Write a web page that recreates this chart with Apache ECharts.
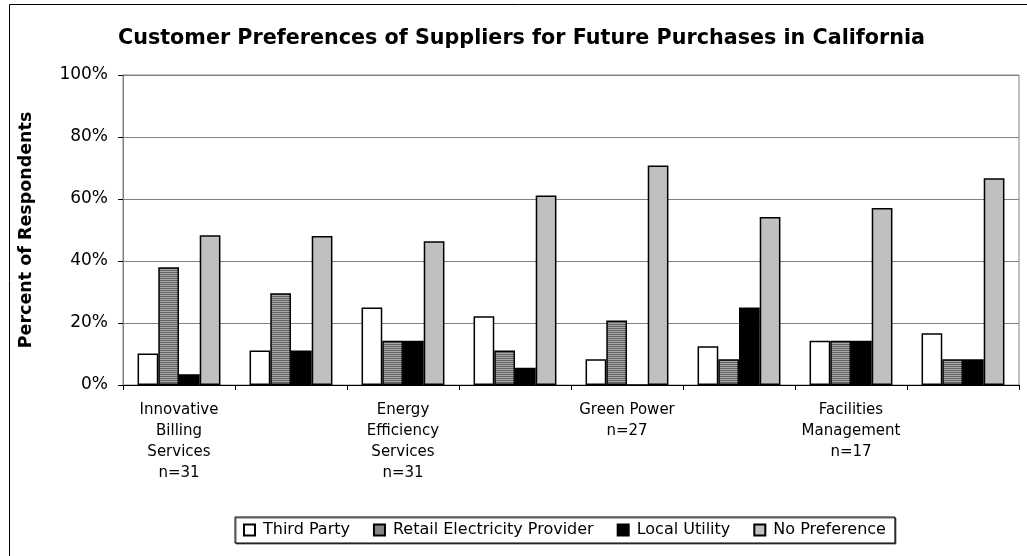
<!DOCTYPE html>
<html>
<head>
<meta charset="utf-8">
<script src="https://cdn.jsdelivr.net/npm/echarts@6/dist/echarts.min.js"></script>
<style>html,body{margin:0;padding:0;background:#fff;}#c{width:1027px;height:556px;}</style>
</head>
<body>
<div id="c"></div>
<script>
var titleText = 'Customer Preferences of Suppliers for Future Purchases in California';
var yAxisTitle = 'Percent of Respondents';
var categories = [
  'Innovative\nBilling\nServices\nn=31', '',
  'Energy\nEfficiency\nServices\nn=31', '',
  'Green Power\nn=27', '',
  'Facilities\nManagement\nn=17', ''
];
var seriesNames = ['Third Party', 'Retail Electricity Provider', 'Local Utility', 'No Preference'];
var thirdParty = [10.2, 11.1, 25.0, 22.2, 8.3, 12.5, 14.3, 16.7];
var retailProvider = [38.0, 29.6, 14.3, 11.1, 20.8, 8.3, 14.3, 8.3];
var localUtility = [3.5, 11.1, 14.3, 5.6, 0, 25.0, 14.3, 8.3];
var noPreference = [48.3, 48.1, 46.4, 61.1, 70.8, 54.2, 57.1, 66.7];
var yTicks = [0, 20, 40, 60, 80, 100];

var pc = document.createElement('canvas');
pc.width = 4; pc.height = 2;
var pctx = pc.getContext('2d');
pctx.fillStyle = '#646464'; pctx.fillRect(0, 0, 4, 1);
pctx.fillStyle = '#a8a8a8'; pctx.fillRect(0, 1, 4, 1);

var fills = ['#ffffff', {image: pc, repeat: 'repeat'}, '#000000', '#c0c0c0'];
var values = [thirdParty, retailProvider, localUtility, noPreference];

var chart = echarts.init(document.getElementById('c'));
var FONT = '"DejaVu Sans", sans-serif';
chart.setOption({
  animation: false,
  backgroundColor: '#ffffff',
  textStyle: {fontFamily: FONT},
  title: {
    text: titleText, left: 113, top: 23,
    textStyle: {fontSize: 20.7, fontWeight: 'bold', color: '#000', fontFamily: FONT}
  },
  graphic: [{
    type: 'rect', left: 7, top: 2, shape: {width: 1040, height: 600},
    style: {fill: 'none', stroke: '#000', lineWidth: 1}, silent: true, z: -1
  }],
  legend: {
    bottom: 13, left: 235,
    data: seriesNames,
    icon: 'rect',
    itemWidth: 11, itemHeight: 11, itemGap: 23,
    padding: [5, 9, 5, 8],
    borderColor: '#000', borderWidth: 1,
    shadowColor: 'rgba(0,0,0,0.6)', shadowOffsetX: 1, shadowOffsetY: 1, shadowBlur: 0,
    backgroundColor: '#fff',
    textStyle: {fontSize: 16, color: '#000', fontFamily: FONT, padding: [0, 0, 0, 3]}
  },
  grid: {
    left: 123, right: 8, top: 75, bottom: 171,
    show: true, borderColor: '#808080', borderWidth: 1
  },
  xAxis: {
    type: 'category', data: categories,
    axisLine: {lineStyle: {color: '#000', width: 1}},
    axisTick: {show: true, alignWithLabel: false, length: 5, lineStyle: {color: '#000'}},
    axisLabel: {interval: 0, fontSize: 15, color: '#000', lineHeight: 21, margin: 15, fontFamily: FONT}
  },
  yAxis: {
    type: 'value', min: 0, max: 100, interval: 20,
    name: yAxisTitle, nameLocation: 'middle', nameGap: 88,
    nameTextStyle: {fontSize: 17.5, fontWeight: 'bold', color: '#000', fontFamily: FONT},
    axisLine: {show: true, lineStyle: {color: '#808080'}},
    axisTick: {show: true, length: 5, lineStyle: {color: '#000'}},
    axisLabel: {fontSize: 17, color: '#000', margin: 15, fontFamily: FONT,
      formatter: function (v) { return yTicks.indexOf(v) >= 0 ? v + '%' : ''; }},
    splitLine: {lineStyle: {color: '#808080', width: 1}}
  },
  series: seriesNames.map(function (n, i) {
    return {
      name: n, type: 'bar', data: values[i],
      barGap: '0%', barCategoryGap: '26%',
      itemStyle: {color: fills[i], borderColor: '#000', borderWidth: 1.5}
    };
  })
});
</script>
</body>
</html>
